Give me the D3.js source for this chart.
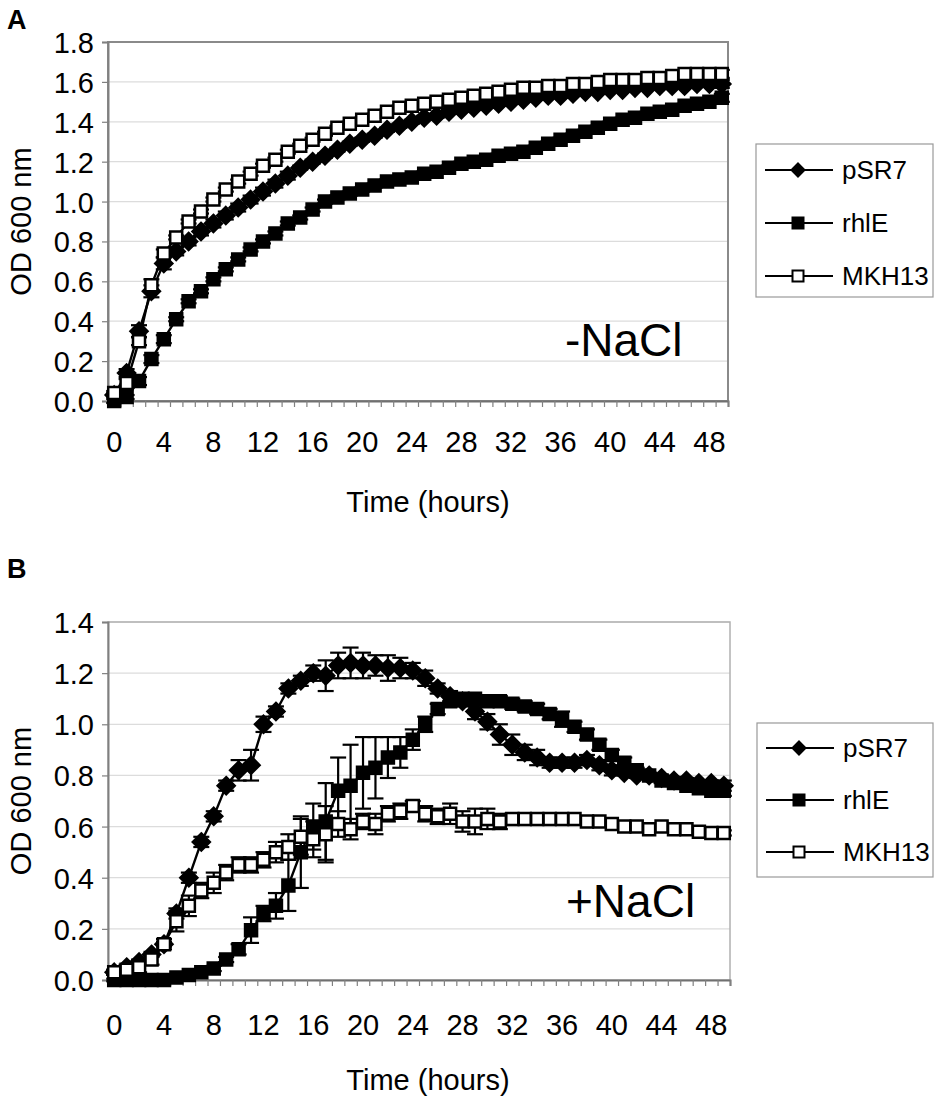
<!DOCTYPE html>
<meta charset="utf-8">
<body style="margin:0;background:#fff">
<script src="https://cdn.jsdelivr.net/npm/d3@7/dist/d3.min.js"></script>
<script>
// time points (hours) = categories of the x axis
var hours = [0,1,2,3,4,5,6,7,8,9,10,11,12,13,14,15,16,17,18,19,20,21,22,23,24,
  25,26,27,28,29,30,31,32,33,34,35,36,37,38,39,40,41,42,43,44,45,46,47,48,49];
var xTickLabels = [0,4,8,12,16,20,24,28,32,36,40,44,48];
var yTicksA = [0,0.2,0.4,0.6,0.8,1.0,1.2,1.4,1.6,1.8];
var yTicksB = [0,0.2,0.4,0.6,0.8,1.0,1.2,1.4];
var seriesNames = ["pSR7", "rhlE", "MKH13"];

// panel A, -NaCl
var pSR7A = [0.03,0.14,0.35,0.55,0.69,0.75,0.80,0.85,0.89,0.93,0.97,1.01,1.05,1.09,1.13,1.17,1.20,1.23,1.26,1.29,
  1.31,1.33,1.36,1.38,1.40,1.42,1.43,1.45,1.46,1.47,1.48,1.49,1.50,1.51,1.52,1.53,1.53,1.54,1.55,1.55,
  1.56,1.56,1.57,1.57,1.58,1.58,1.58,1.59,1.59,1.59];
var rhlEA = [0.00,0.02,0.10,0.21,0.31,0.41,0.50,0.55,0.61,0.66,0.71,0.76,0.80,0.84,0.89,0.92,0.96,1.00,1.02,1.04,
  1.06,1.08,1.10,1.11,1.12,1.14,1.15,1.17,1.19,1.20,1.21,1.23,1.24,1.25,1.27,1.29,1.31,1.33,1.35,1.37,
  1.39,1.41,1.42,1.44,1.45,1.46,1.48,1.49,1.50,1.52];
var MKH13A = [0.04,0.09,0.30,0.58,0.74,0.82,0.90,0.95,1.01,1.06,1.10,1.14,1.18,1.21,1.25,1.28,1.31,1.34,1.37,1.39,
  1.41,1.43,1.45,1.47,1.48,1.49,1.50,1.51,1.52,1.53,1.54,1.55,1.56,1.57,1.57,1.58,1.58,1.59,1.59,1.60,
  1.61,1.61,1.61,1.62,1.62,1.63,1.64,1.64,1.64,1.64];
var pSR7Aerr = [0.01,0.02,0.03,0.03,0.03,0.02,0.02,0.02,0.02,0.02,0.02,0.02,0.02,0.02,0.02,0.01,0.01,0.01,0.01,0.01,
  0.01,0.01,0.01,0.01,0.01,0.01,0.01,0.01,0.01,0.01,0.01,0.01,0.01,0.01,0.01,0.01,0.01,0.01,0.01,0.01,
  0.01,0.01,0.01,0.01,0.01,0.01,0.01,0.01,0.01,0.02];
var rhlEAerr = [0.01,0.01,0.02,0.02,0.02,0.01,0.01,0.01,0.01,0.01,0.01,0.01,0.01,0.01,0.01,0.01,0.01,0.01,0.01,0.01,
  0.01,0.01,0.01,0.01,0.01,0.01,0.01,0.01,0.01,0.01,0.01,0.01,0.01,0.01,0.01,0.01,0.01,0.01,0.01,0.01,
  0.01,0.01,0.01,0.01,0.01,0.01,0.01,0.01,0.01,0.02];
var MKH13Aerr = [0.01,0.02,0.02,0.03,0.02,0.01,0.01,0.01,0.01,0.01,0.01,0.01,0.01,0.01,0.01,0.01,0.01,0.01,0.01,0.01,
  0.01,0.01,0.01,0.01,0.01,0.01,0.01,0.01,0.01,0.01,0.01,0.01,0.01,0.01,0.01,0.01,0.01,0.01,0.01,0.01,
  0.01,0.01,0.01,0.01,0.01,0.01,0.01,0.01,0.01,0.02];

// panel B, +NaCl
var pSR7B = [0.03,0.05,0.07,0.10,0.14,0.26,0.40,0.54,0.64,0.76,0.82,0.84,1.00,1.05,1.14,1.17,1.20,1.19,1.23,1.24,
  1.23,1.23,1.22,1.22,1.21,1.18,1.14,1.11,1.09,1.05,1.01,0.96,0.92,0.89,0.87,0.85,0.85,0.85,0.86,0.84,
  0.82,0.81,0.80,0.80,0.79,0.78,0.78,0.77,0.77,0.76];
var rhlEB = [0.00,0.00,0.00,0.00,0.00,0.01,0.02,0.03,0.045,0.08,0.12,0.195,0.26,0.29,0.37,0.50,0.60,0.62,0.74,0.76,
  0.81,0.83,0.87,0.89,0.94,1.00,1.06,1.09,1.10,1.10,1.09,1.09,1.08,1.07,1.06,1.04,1.02,0.99,0.96,0.92,
  0.88,0.85,0.82,0.80,0.78,0.77,0.76,0.75,0.74,0.74];
var MKH13B = [0.03,0.04,0.05,0.08,0.14,0.23,0.29,0.35,0.38,0.42,0.45,0.45,0.47,0.50,0.52,0.56,0.55,0.57,0.61,0.59,
  0.62,0.61,0.65,0.66,0.68,0.65,0.64,0.65,0.62,0.62,0.63,0.62,0.63,0.63,0.63,0.63,0.63,0.63,0.62,0.62,
  0.61,0.60,0.60,0.59,0.60,0.59,0.59,0.58,0.575,0.575];
var pSR7Berr = [0.01,0.01,0.01,0.01,0.01,0.02,0.02,0.02,0.02,0.02,0.04,0.06,0.03,0.02,0.02,0.02,0.03,0.06,0.05,0.06,
  0.05,0.04,0.05,0.04,0.03,0.03,0.02,0.02,0.02,0.03,0.03,0.04,0.04,0.03,0.03,0.02,0.02,0.02,0.02,0.02,
  0.02,0.01,0.01,0.01,0.01,0.01,0.01,0.01,0.01,0.02];
var rhlEBerr = [0.005,0.005,0.005,0.005,0.005,0.005,0.005,0.005,0.01,0.01,0.02,0.05,0.03,0.05,0.10,0.14,0.09,0.15,0.13,0.16,
  0.14,0.12,0.08,0.06,0.04,0.03,0.02,0.02,0.02,0.01,0.02,0.02,0.02,0.02,0.02,0.02,0.03,0.02,0.02,0.02,
  0.02,0.02,0.01,0.01,0.01,0.01,0.01,0.01,0.01,0.02];
var MKH13Berr = [0.01,0.01,0.02,0.02,0.02,0.04,0.04,0.03,0.04,0.03,0.03,0.03,0.03,0.04,0.05,0.07,0.07,0.11,0.05,0.04,
  0.03,0.04,0.03,0.03,0.02,0.03,0.03,0.04,0.04,0.05,0.04,0.03,0.02,0.01,0.01,0.01,0.01,0.01,0.01,0.01,
  0.01,0.01,0.01,0.01,0.01,0.01,0.01,0.01,0.01,0.01];

var font = "'Liberation Sans', Arial, sans-serif";

var svg = d3.select("body").append("svg")
    .attr("width", 942)
    .attr("height", 1103)
    .style("font-family", font);

svg.append("rect").attr("width", 942).attr("height", 1103).attr("fill", "#fff");

// marker shapes
function diamond(r) { return "M0," + (-r) + "L" + r + ",0L0," + r + "L" + (-r) + ",0Z"; }
function square(s) { return "M" + (-s/2) + "," + (-s/2) + "h" + s + "v" + s + "h" + (-s) + "Z"; }
var markers = {
  pSR7:  {d: diamond(8.5), fill: "#000"},
  rhlE:  {d: square(12), fill: "#000"},
  MKH13: {d: square(12), fill: "#fff"}
};
var legendMarkers = {
  pSR7:  {d: diamond(6.5), fill: "#000"},
  rhlE:  {d: square(11), fill: "#000"},
  MKH13: {d: square(11), fill: "#fff"}
};

function drawPanel(cfg) {
  var g = svg.append("g");

  var x = d3.scaleBand().domain(hours).range([cfg.left, cfg.right]);
  var cx = function(h) { return x(h) + x.bandwidth() / 2; };
  var xEdge = d3.scaleLinear().domain([0, hours.length]).range([cfg.left, cfg.right]);
  var y = d3.scaleLinear().domain([0, cfg.yMax]).range([cfg.bottom, cfg.top]);

  // gridlines
  g.selectAll(".grid")
    .data(cfg.yTicks.slice(1))
    .join("line")
      .attr("x1", cfg.left).attr("x2", cfg.right)
      .attr("y1", function(d) { return y(d); })
      .attr("y2", function(d) { return y(d); })
      .attr("stroke", "#dcdcdc").attr("stroke-width", 1.2);

  // plot frame
  g.append("rect")
    .attr("x", cfg.left).attr("y", cfg.top)
    .attr("width", cfg.right - cfg.left).attr("height", cfg.bottom - cfg.top)
    .attr("fill", "none").attr("stroke", cfg.frame).attr("stroke-width", cfg.frameWidth);

  // y axis
  var yAxis = g.append("g")
    .attr("transform", "translate(" + cfg.left + ",0)")
    .call(d3.axisLeft(y).tickValues(cfg.yTicks).tickFormat(d3.format(".1f")).tickSize(6).tickPadding(8));
  yAxis.select(".domain").attr("stroke", "#808080").attr("stroke-width", 2);
  yAxis.selectAll(".tick line").attr("stroke", "#808080").attr("stroke-width", 1.2);
  yAxis.selectAll(".tick text")
    .attr("font-size", 29).attr("font-family", font).attr("fill", "#000").attr("dy", "0.36em");

  // x axis: ticks between categories, labels every 4 h
  var xAxis = g.append("g")
    .attr("transform", "translate(0," + cfg.bottom + ")")
    .call(d3.axisBottom(xEdge).tickValues(d3.range(hours.length + 1)).tickFormat("").tickSize(6));
  xAxis.select(".domain").attr("stroke", "#707070").attr("stroke-width", 2);
  xAxis.selectAll(".tick line").attr("stroke", "#808080").attr("stroke-width", 1.2);

  g.selectAll(".xlab")
    .data(xTickLabels)
    .join("text")
      .attr("x", function(d) { return cx(d); })
      .attr("y", cfg.bottom + cfg.xLabOffset)
      .attr("text-anchor", "middle")
      .attr("font-size", 29)
      .text(function(d) { return d; });

  // axis titles
  g.append("text")
    .attr("transform", "translate(31," + ((cfg.top + cfg.bottom) / 2) + ") rotate(-90)")
    .attr("text-anchor", "middle")
    .attr("font-size", 29)
    .text("OD 600 nm");
  g.append("text")
    .attr("x", 428).attr("y", cfg.titleY)
    .attr("text-anchor", "middle")
    .attr("font-size", 29)
    .text("Time (hours)");

  // panel letter and condition label
  g.append("text")
    .attr("x", 7).attr("y", cfg.letterY)
    .attr("font-size", 27).attr("font-weight", "bold")
    .text(cfg.letter);
  g.append("text")
    .attr("x", cfg.condX).attr("y", cfg.condY)
    .attr("font-size", 46)
    .text(cfg.cond);

  // series: line, error bars, markers
  var line = d3.line()
    .x(function(d) { return cx(d.h); })
    .y(function(d) { return y(d.v); });

  cfg.series.forEach(function(s) {
    var pts = hours.map(function(h, i) { return {h: h, v: s.values[i], e: s.err[i]}; });
    var sg = g.append("g");
    sg.append("path")
      .datum(pts)
      .attr("d", line)
      .attr("fill", "none").attr("stroke", "#000").attr("stroke-width", 2.4);

    var eb = sg.selectAll(".err").data(pts).join("g");
    eb.append("line")
      .attr("x1", function(d) { return cx(d.h); }).attr("x2", function(d) { return cx(d.h); })
      .attr("y1", function(d) { return y(d.v - d.e); })
      .attr("y2", function(d) { return y(d.v + d.e); })
      .attr("stroke", "#000").attr("stroke-width", 2.2);
    [-1, 1].forEach(function(sign) {
      eb.append("line")
        .attr("x1", function(d) { return cx(d.h) - 8; }).attr("x2", function(d) { return cx(d.h) + 8; })
        .attr("y1", function(d) { return y(d.v + sign * d.e); })
        .attr("y2", function(d) { return y(d.v + sign * d.e); })
        .attr("stroke", "#000").attr("stroke-width", 2.2);
    });

    sg.selectAll(".mk").data(pts).join("path")
      .attr("transform", function(d) { return "translate(" + cx(d.h) + "," + y(d.v) + ")"; })
      .attr("d", markers[s.name].d)
      .attr("fill", markers[s.name].fill)
      .attr("stroke", "#000").attr("stroke-width", 2.5);
  });

  // legend
  var lg = g.append("g");
  lg.append("rect")
    .attr("x", cfg.legend.x).attr("y", cfg.legend.y)
    .attr("width", cfg.legend.w).attr("height", cfg.legend.h)
    .attr("fill", "#fff").attr("stroke", "#999").attr("stroke-width", 1.2);
  var items = lg.selectAll(".item")
    .data(seriesNames)
    .join("g")
      .attr("transform", function(d, i) {
        return "translate(" + cfg.legend.x + "," + (cfg.legend.y + cfg.legend.first + i * cfg.legend.step) + ")";
      });
  items.append("line")
    .attr("x1", 9).attr("x2", 77)
    .attr("stroke", "#000").attr("stroke-width", 2.2);
  items.append("path")
    .attr("transform", "translate(42,0)")
    .attr("d", function(d) { return legendMarkers[d].d; })
    .attr("fill", function(d) { return legendMarkers[d].fill; })
    .attr("stroke", "#000").attr("stroke-width", 2);
  items.append("text")
    .attr("x", 86).attr("dy", "0.36em")
    .attr("font-size", 26)
    .text(function(d) { return d; });
}

drawPanel({
  letter: "A", letterY: 29,
  cond: "-NaCl", condX: 565, condY: 356,
  left: 108, right: 728, top: 42, bottom: 401,
  yMax: 1.8, yTicks: yTicksA,
  frame: "#8a8a8a", frameWidth: 2,
  xLabOffset: 51, titleY: 512,
  legend: {x: 756, y: 144, w: 177, h: 153, first: 26, step: 53},
  series: [
    {name: "pSR7", values: pSR7A, err: pSR7Aerr},
    {name: "rhlE", values: rhlEA, err: rhlEAerr},
    {name: "MKH13", values: MKH13A, err: MKH13Aerr}
  ]
});

drawPanel({
  letter: "B", letterY: 578,
  cond: "+NaCl", condX: 566, condY: 917,
  left: 108, right: 730, top: 622, bottom: 980,
  yMax: 1.4, yTicks: yTicksB,
  frame: "#b0b0b0", frameWidth: 1.5,
  xLabOffset: 55, titleY: 1090,
  legend: {x: 757, y: 723, w: 176, h: 154, first: 25, step: 52},
  series: [
    {name: "pSR7", values: pSR7B, err: pSR7Berr},
    {name: "rhlE", values: rhlEB, err: rhlEBerr},
    {name: "MKH13", values: MKH13B, err: MKH13Berr}
  ]
});
</script>
</body>
